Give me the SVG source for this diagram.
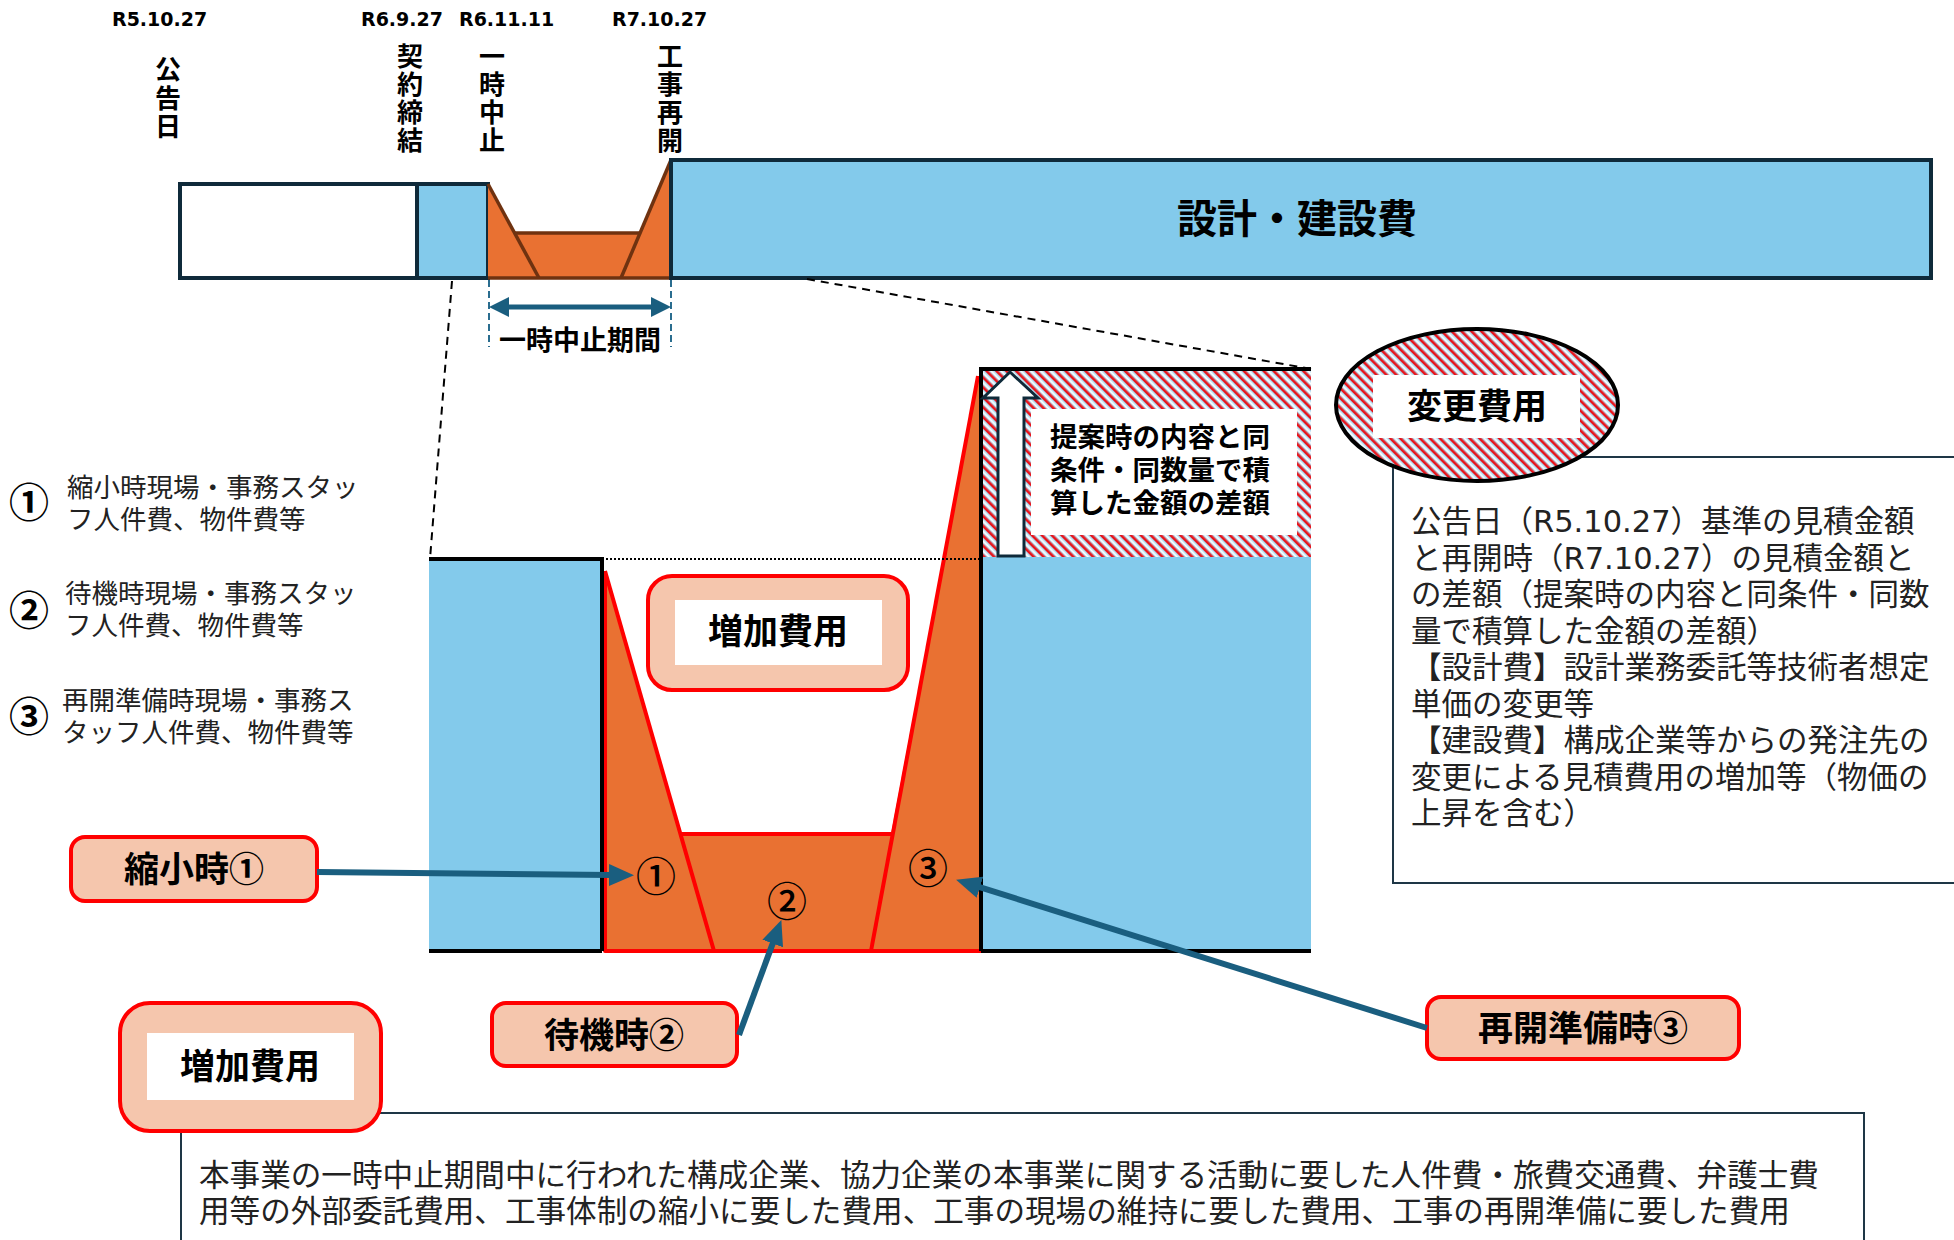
<svg xmlns="http://www.w3.org/2000/svg" width="1954" height="1240" viewBox="0 0 1954 1240">
<style>
.date{font-family:"DejaVu Sans","Liberation Sans",sans-serif;font-weight:700;font-size:19px;fill:#000}
.vlab{font-family:"Noto Sans CJK JP",sans-serif;font-weight:700;font-size:26px;fill:#000;writing-mode:vertical-rl;text-orientation:upright;letter-spacing:2px}
.bold{font-family:"Noto Sans CJK JP",sans-serif;font-weight:700;fill:#000}
.note{font-family:"DejaVu Sans","Noto Sans CJK JP",sans-serif;font-weight:700;fill:#000}
.mid{text-anchor:middle}
.body{font-family:"DejaVu Sans","Noto Sans CJK JP",sans-serif;font-weight:400;fill:#222}
.circ{font-family:"Noto Sans CJK JP",sans-serif;fill:#000;text-anchor:middle}
.blue{fill:#83CAEB}
.navy{fill:none;stroke:#0F2A3A;stroke-width:4}
.peach{fill:#F5C6AD;stroke:#FF0000;stroke-width:4}
.redln{fill:none;stroke:#FF0000;stroke-width:4;stroke-linejoin:round}
.blk{fill:none;stroke:#000;stroke-width:4}
.brown{fill:none;stroke:#6F3210;stroke-width:3.5}
.conn{fill:none;stroke:#1A5E7F;stroke-width:6}
.dash{fill:none;stroke:#000;stroke-width:2;stroke-dasharray:8 6}
.box{fill:#fff;stroke:#1E3646;stroke-width:2}
</style>
<defs>
<pattern id="hatch" patternUnits="userSpaceOnUse" width="7" height="7" patternTransform="rotate(-45)">
<rect width="7" height="7" fill="#A9D8EE"/>
<rect x="0" width="2.6" height="7" fill="#E8141B"/>
<rect x="3.7" width="1.8" height="7" fill="#FFFFFF"/>
</pattern>
<marker id="ah" markerUnits="userSpaceOnUse" markerWidth="26" markerHeight="22" viewBox="0 0 26 22" refX="2" refY="11" orient="auto-start-reverse">
<path d="M0,0 L25,11 L0,22 z" fill="#1A5E7F"/>
</marker>
<marker id="ah2" markerUnits="userSpaceOnUse" markerWidth="22" markerHeight="20" viewBox="0 0 22 20" refX="2" refY="10" orient="auto-start-reverse">
<path d="M0,0 L20,10 L0,20 z" fill="#1A5E7F"/>
</marker>
</defs>
<rect width="1954" height="1240" fill="#fff"/>

<!-- top date labels -->
<g id="dates">
<text class="date" x="112" y="26">R5.10.27</text>
<text class="date" x="361" y="26">R6.9.27</text>
<text class="date" x="459" y="26">R6.11.11</text>
<text class="date" x="612" y="26">R7.10.27</text>
</g>
<g id="milestones">
<text class="vlab" x="168" y="56.5" style="letter-spacing:2.5px">公告日</text>
<text class="vlab" x="410" y="43.5">契約締結</text>
<text class="vlab" x="492" y="43.5">一時中止</text>
<text class="vlab" x="670" y="43.5">工事再開</text>
</g>

<!-- top bar -->
<g id="announce-box"><rect x="180" y="184" width="237" height="94" fill="#fff" class="navy"/></g>
<g id="contract-box"><rect x="417" y="184" width="71" height="94" class="blue"/><rect x="417" y="184" width="71" height="94" class="navy"/></g>
<g id="suspend-top">
<polygon points="488,184 514,233 641,233 671,160 671,278 488,278" fill="#E97132"/>
<polyline points="488,184 539,278" class="brown"/>
<polyline points="514,233 641,233" class="brown"/>
<polyline points="671,160 621,278" class="brown"/>
<polyline points="488,278 671,278 671,160" class="brown"/>
</g>
<g id="design-build-bar">
<rect x="671" y="160" width="1260" height="118" class="blue"/>
<rect x="671" y="160" width="1260" height="118" class="navy"/>
<text class="bold mid" x="1297" y="233" font-size="40">設計・建設費</text>
</g>
<g id="period-label"><text class="bold mid" x="580" y="350" font-size="27">一時中止期間</text></g>

<!-- lower diagram -->
<g id="before-block"><rect x="429" y="559" width="173" height="392" class="blue"/></g>
<g id="after-block">
<rect x="981" y="369" width="330" height="582" class="blue"/>
<rect x="981" y="369" width="330" height="188" fill="url(#hatch)"/>
</g>
<g id="increase-area">
<polygon points="604,571 681,834 891,834 978,376 981,376 981,951 604,951" fill="#E97132"/>
<polyline points="605,571 605,951 981,951" class="redln"/>
<polyline points="605,571 714,951" class="redln"/>
<polyline points="681,834 891,834" class="redln"/>
<polyline points="871,951 978,376" class="redln"/>
<text class="circ" x="656" y="891" font-size="40" font-weight="500">①</text>
<text class="circ" x="787" y="916" font-size="40" font-weight="500">②</text>
<text class="circ" x="928" y="883" font-size="40" font-weight="500">③</text>
</g>
<g id="borders">
<polyline points="429,559 602,559 602,951" class="blk"/>
<polyline points="1311,369 981,369 981,951" class="blk"/>
<line x1="429" y1="951" x2="602" y2="951" class="blk"/>
<line x1="981" y1="951" x2="1311" y2="951" class="blk"/>
</g>
<g id="diff-arrow">
<polygon points="1010,372 1038,398 1024,398 1024,556 998,556 998,398 983,398" fill="#fff" stroke="#0F2A3A" stroke-width="3" stroke-linejoin="miter"/>
</g>
<g id="diff-note">
<rect x="1031" y="409" width="266" height="126" fill="#fff"/>
<text class="note" font-size="27.5"><tspan x="1050" y="447">提案時の内容と同</tspan><tspan x="1050" y="480">条件・同数量で積</tspan><tspan x="1050" y="513">算した金額の差額</tspan></text>
</g>
<g id="increase-mid">
<rect x="648" y="576" width="260" height="114" rx="24" class="peach"/>
<rect x="675" y="600" width="207" height="65" fill="#fff"/>
<text class="bold mid" x="778" y="644" font-size="35">増加費用</text>
</g>

<!-- legend -->
<g id="legend">
<text class="circ" x="29" y="517" font-size="40" font-weight="700">①</text>
<text class="body" font-size="26.5"><tspan x="67" y="497">縮小時現場・事務スタッ</tspan><tspan x="67" y="529">フ人件費、物件費等</tspan></text>
<text class="circ" x="29" y="625" font-size="40" font-weight="700">②</text>
<text class="body" font-size="26.5"><tspan x="65" y="603">待機時現場・事務スタッ</tspan><tspan x="65" y="635">フ人件費、物件費等</tspan></text>
<text class="circ" x="29" y="731" font-size="40" font-weight="700">③</text>
<text class="body" font-size="26.5"><tspan x="62" y="710">再開準備時現場・事務ス</tspan><tspan x="62" y="742">タッフ人件費、物件費等</tspan></text>
</g>

<!-- right description -->
<g id="change-desc">
<rect x="1393" y="457" width="580" height="426" class="box"/>
<text class="body" font-size="30.5">
<tspan x="1411" y="532">公告日（R5.10.27）基準の見積金額</tspan>
<tspan x="1411" y="568.5">と再開時（R7.10.27）の見積金額と</tspan>
<tspan x="1411" y="605">の差額（提案時の内容と同条件・同数</tspan>
<tspan x="1411" y="641.5">量で積算した金額の差額）</tspan>
<tspan x="1411" y="678">【設計費】設計業務委託等技術者想定</tspan>
<tspan x="1411" y="714.5">単価の変更等</tspan>
<tspan x="1411" y="751">【建設費】構成企業等からの発注先の</tspan>
<tspan x="1411" y="787.5">変更による見積費用の増加等（物価の</tspan>
<tspan x="1411" y="824">上昇を含む）</tspan>
</text>
</g>
<g id="change-cost">
<ellipse cx="1477" cy="405" rx="141" ry="76" fill="url(#hatch)" stroke="#000" stroke-width="4"/>
<rect x="1373" y="375" width="207" height="63" fill="#fff"/>
<text class="bold mid" x="1477" y="419" font-size="35">変更費用</text>
</g>

<!-- bottom description -->
<g id="increase-desc">
<rect x="181" y="1113" width="1683" height="140" class="box"/>
<text class="body" font-size="30.6">
<tspan x="199" y="1186">本事業の一時中止期間中に行われた構成企業、協力企業の本事業に関する活動に要した人件費・旅費交通費、弁護士費</tspan>
<tspan x="199" y="1222">用等の外部委託費用、工事体制の縮小に要した費用、工事の現場の維持に要した費用、工事の再開準備に要した費用</tspan>
</text>
</g>
<g id="increase-bottom">
<rect x="120" y="1003" width="261" height="128" rx="30" class="peach" stroke-width="5"/>
<rect x="147" y="1033" width="207" height="67" fill="#fff"/>
<text class="bold mid" x="250" y="1079" font-size="35">増加費用</text>
</g>

<!-- labels -->
<g id="label-shrink">
<rect x="71" y="837" width="246" height="64" rx="14" class="peach"/>
<text class="bold mid" x="194" y="882" font-size="35">縮小時①</text>
</g>
<g id="label-standby">
<rect x="492" y="1003" width="245" height="63" rx="14" class="peach"/>
<text class="bold mid" x="614" y="1048" font-size="35">待機時②</text>
</g>
<g id="label-restart">
<rect x="1427" y="997" width="312" height="62" rx="14" class="peach"/>
<text class="bold mid" x="1583" y="1041" font-size="35">再開準備時③</text>
</g>

<!-- connectors -->
<g id="connectors">
<line x1="452" y1="281" x2="430" y2="559" class="dash"/>
<line x1="807" y1="279" x2="1311" y2="369" class="dash"/>
<line x1="602" y1="559" x2="981" y2="559" stroke="#000" stroke-width="2" stroke-dasharray="2 2"/>
<line x1="489" y1="280" x2="489" y2="347" stroke="#2A6D8F" stroke-width="2" stroke-dasharray="7 4"/>
<line x1="671" y1="280" x2="671" y2="347" stroke="#2A6D8F" stroke-width="2" stroke-dasharray="7 4"/>
<line x1="507" y1="307" x2="653" y2="307" stroke="#1A5E7F" stroke-width="5" marker-start="url(#ah2)" marker-end="url(#ah2)"/>
<line x1="317" y1="872" x2="611" y2="875" class="conn" marker-end="url(#ah)"/>
<line x1="739" y1="1035" x2="773.4" y2="941.6" class="conn" marker-end="url(#ah)"/>
<line x1="1427" y1="1028" x2="978" y2="886.6" class="conn" marker-end="url(#ah)"/>
</g>
</svg>
